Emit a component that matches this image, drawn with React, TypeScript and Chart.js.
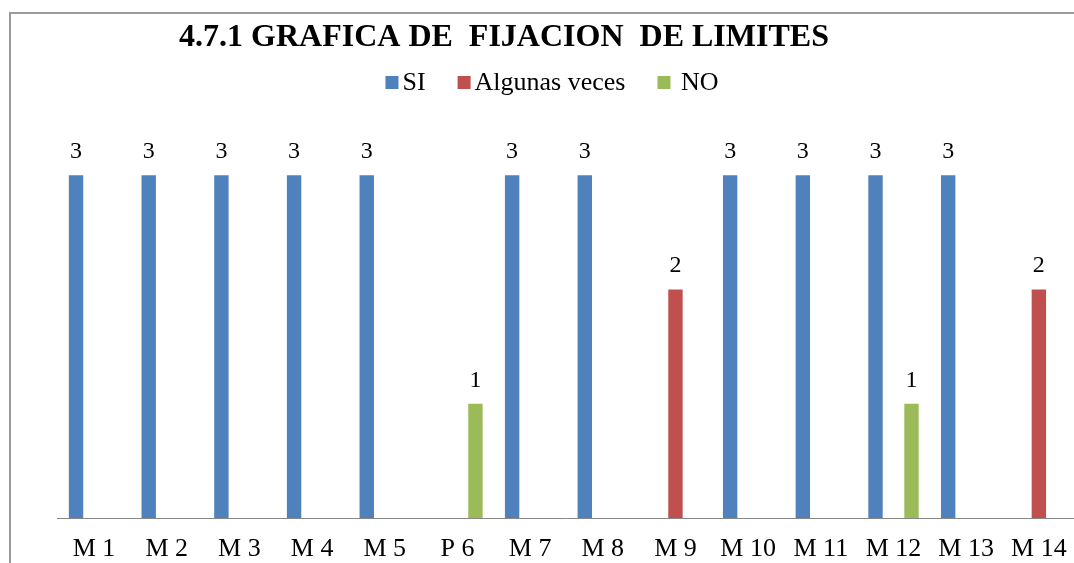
import React, { useEffect, useRef } from "react";
import { Chart, registerables } from "chart.js";

Chart.register(...registerables);

const categories = ["M 1", "M 2", "M 3", "M 4", "M 5", "P 6", "M 7", "M 8", "M 9", "M 10", "M 11", "M 12", "M 13", "M 14"];
const siValues = [3, 3, 3, 3, 3, null, 3, 3, null, 3, 3, 3, 3, null];
const algunasValues = [null, null, null, null, null, null, null, null, 2, null, null, null, null, 2];
const noValues = [null, null, null, null, null, 1, null, null, null, null, null, 1, null, null];
const seriesNames = ["SI", "Algunas veces", " NO"];
const titleText = "4.7.1 GRAFICA DE  FIJACION  DE LIMITES";

const BLUE = "#4F81BD";
const RED = "#C0504D";
const GREEN = "#9BBB59";
const SERIF = '"Liberation Serif", "Times New Roman", serif';

const CANVAS_W = 1090;
const CANVAS_H = 563;

const titlePlugin = {
  id: "customTitle",
  afterDraw(chart: any) {
    const ctx = chart.ctx;
    ctx.save();
    ctx.font = `bold 32px ${SERIF}`;
    ctx.fillStyle = "#000";
    ctx.textAlign = "center";
    ctx.textBaseline = "alphabetic";
    ctx.fillText(titleText, 504, 46);
    ctx.restore();
  },
};

const legendPlugin = {
  id: "customLegend",
  afterDraw(chart: any) {
    const ctx = chart.ctx;
    ctx.save();
    ctx.font = `26px ${SERIF}`;
    const box = 13;
    const gapText = 4;
    const gapItem = 32;
    const items = chart.data.datasets.map((d: any) => ({
      text: d.label,
      color: d.backgroundColor,
      w: ctx.measureText(d.label).width,
    }));
    const total =
      items.reduce((s: number, it: any) => s + box + gapText + it.w, 0) + gapItem * (items.length - 1);
    let x = 552 - total / 2;
    ctx.textBaseline = "alphabetic";
    ctx.textAlign = "left";
    for (const it of items) {
      ctx.fillStyle = it.color;
      ctx.fillRect(x, 76, box, box);
      ctx.fillStyle = "#000";
      ctx.fillText(it.text, x + box + gapText, 89.5);
      x += box + gapText + it.w + gapItem;
    }
    ctx.restore();
  },
};

const valueLabelPlugin = {
  id: "valueLabels",
  afterDatasetsDraw(chart: any) {
    const ctx = chart.ctx;
    ctx.save();
    ctx.font = `24px ${SERIF}`;
    ctx.fillStyle = "#000";
    ctx.textAlign = "center";
    ctx.textBaseline = "alphabetic";
    chart.data.datasets.forEach((ds: any, i: number) => {
      const meta = chart.getDatasetMeta(i);
      meta.data.forEach((el: any, j: number) => {
        const v = ds.data[j];
        if (v === null || v === undefined) return;
        ctx.fillText(String(v), el.x, el.y - 17);
      });
    });
    ctx.restore();
  },
};

export default function App() {
  const ref = useRef<HTMLCanvasElement>(null);

  useEffect(() => {
    if (!ref.current) return;
    const chart = new Chart(ref.current, {
      type: "bar",
      data: {
        labels: categories,
        datasets: [
          { label: seriesNames[0], data: siValues, backgroundColor: BLUE },
          { label: seriesNames[1], data: algunasValues, backgroundColor: RED },
          { label: seriesNames[2], data: noValues, backgroundColor: GREEN },
        ],
      },
      options: {
        responsive: false,
        animation: false,
        layout: {
          padding: { left: 57.7, right: CANVAS_W - 1075.2, top: 118, bottom: 0 },
        },
        datasets: {
          bar: { categoryPercentage: 0.743, barPercentage: 0.8 },
        },
        plugins: {
          legend: { display: false },
          title: { display: false },
          tooltip: { enabled: false },
        },
        scales: {
          x: {
            grid: { display: false, drawTicks: false },
            border: { display: true, color: "#868686", width: 1 },
            ticks: {
              color: "#000",
              font: { family: SERIF, size: 26 },
              padding: 16,
              maxRotation: 0,
              autoSkip: false,
            },
            afterFit: (scale: any) => {
              scale.height = CANVAS_H - 518;
            },
          },
          y: {
            display: false,
            min: 0,
            max: 3.5,
          },
        },
      },
      plugins: [titlePlugin, legendPlugin, valueLabelPlugin],
    } as any);
    let alive = true;
    if ((document as any).fonts && (document as any).fonts.ready) {
      (document as any).fonts.ready.then(() => {
        if (alive) chart.update();
      });
    }
    return () => {
      alive = false;
      chart.destroy();
    };
  }, []);

  return (
    <div
      style={{
        position: "fixed",
        left: 0,
        top: 0,
        width: 1074,
        height: 563,
        overflow: "hidden",
        background: "#fff",
      }}
    >
      <div
        style={{
          position: "absolute",
          left: 9,
          top: 12,
          width: 1200,
          height: 700,
          borderLeft: "2px solid #9a9a9a",
          borderTop: "2px solid #9a9a9a",
        }}
      />
      <canvas
        ref={ref}
        width={CANVAS_W}
        height={CANVAS_H}
        style={{ position: "absolute", left: 0, top: 0, width: CANVAS_W, height: CANVAS_H }}
      />
    </div>
  );
}
